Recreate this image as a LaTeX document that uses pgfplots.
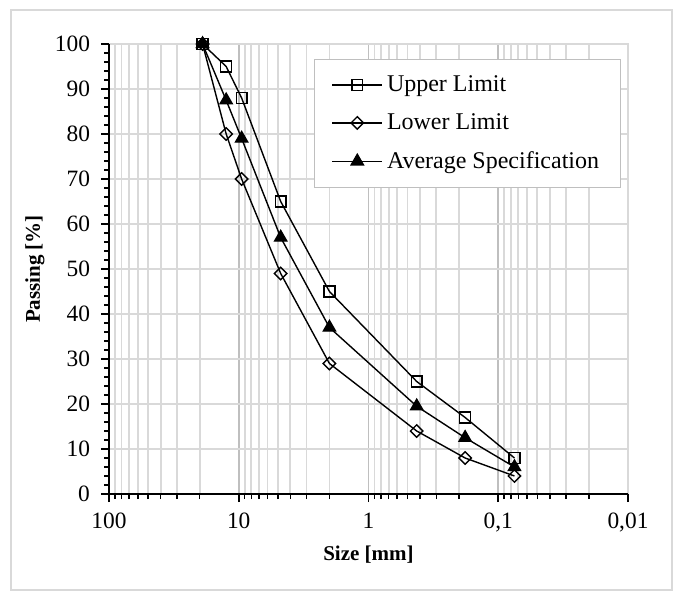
\documentclass[border=0pt]{standalone}
\usepackage{fontspec}
\setmainfont{Liberation Serif}
\usepackage{pgfplots}
\pgfplotsset{compat=1.18}

\definecolor{gridgray}{RGB}{217,217,217}
\definecolor{majgray}{RGB}{191,191,191}
\definecolor{framegray}{RGB}{217,217,217}

\begin{document}
\begin{tikzpicture}
\begin{axis}[
    at={(0pt,0pt)}, anchor=south west,
    scale only axis,
    width=259.5pt, height=225pt,
    xmode=log, x dir=reverse,
    xmin=0.01, xmax=100,
    ymin=0, ymax=100,
    xtick={100,10,1,0.1,0.01},
    xticklabels={100,10,1,{0,1},{0,01}},
    minor xtick={20,30,40,50,60,70,80,90,2,3,4,5,6,7,8,9,
        0.2,0.3,0.4,0.5,0.6,0.7,0.8,0.9,0.02,0.03,0.04,0.05,0.06,0.07,0.08,0.09},
    ytick={0,10,...,100},
    minor ytick={0,2,...,100},
    /pgf/number format/assume math mode=true,
    tick pos=left,
    tick align=outside,
    major tick length=4pt,
    minor tick length=2.5pt,
    every tick/.style={black, line width=0.8pt},
    xmajorgrids, xminorgrids, ymajorgrids,
    major x grid style={majgray, line width=0.9pt},
    minor x grid style={gridgray, line width=0.9pt},
    major y grid style={gridgray, line width=0.9pt},
    axis line style={draw=none},
    tick label style={font=\fontsize{11.7}{13}\selectfont},
    xticklabel style={yshift=-2pt},
    yticklabel style={xshift=-2pt},
    xlabel={\textbf{Size [mm]}},
    ylabel={\textbf{Passing [\%]}},
    label style={font=\fontsize{10.5}{12}\selectfont},
    xlabel style={at={(axis description cs:0.5,0)}, anchor=center, yshift=-30.5pt},
    ylabel style={at={(axis description cs:0,0.5)}, anchor=center, yshift=37pt},
    clip=false,
    legend cell align=left,
    legend style={at={(axis description cs:0.395,0.9667)}, anchor=north west,
        draw=majgray, fill=white, line width=0.6pt,
        font=\fontsize{12}{14}\selectfont,
        row sep=5.5pt, inner xsep=8.5pt, inner ysep=6pt},
    legend image code/.code={
        \draw[mark repeat=2, mark phase=2] plot coordinates {(0pt,0pt) (12.5pt,0pt) (25pt,0pt)};
    },
]
\addplot[black, line width=0.7pt, mark=square, mark size=2.7pt,
    mark options={fill=white, solid}]
    coordinates {(19,100) (12.5,95) (9.5,88) (4.75,65) (2,45) (0.425,25) (0.18,17) (0.075,8)};
\addlegendentry{Upper Limit}
\addplot[black, line width=0.7pt, mark=square, mark size=2.2pt,
    mark options={fill=white, solid, rotate=45}]
    coordinates {(19,100) (12.5,80) (9.5,70) (4.75,49) (2,29) (0.425,14) (0.18,8) (0.075,4)};
\addlegendentry{Lower Limit}
\addplot[black, line width=0.7pt, mark=triangle*, mark size=3.5pt,
    mark options={fill=black, solid}]
    coordinates {(19,100) (12.5,87.5) (9.5,79) (4.75,57) (2,37) (0.425,19.5) (0.18,12.5) (0.075,6)};
\addlegendentry{Average Specification}
\draw[gridgray, line width=0.9pt] (rel axis cs:0,1) -- (rel axis cs:1,1) -- (rel axis cs:1,0);
\draw[black, line width=1pt] (rel axis cs:0,1) -- (rel axis cs:0,0) -- (rel axis cs:1,0);
\end{axis}
\draw[framegray, line width=0.7pt] (-49pt,-48pt) rectangle (281.5pt,242pt);
\pgfresetboundingbox
\path[use as bounding box] (-54.5pt,-48.5pt) rectangle (283.5pt,247pt);
\end{tikzpicture}
\end{document}
